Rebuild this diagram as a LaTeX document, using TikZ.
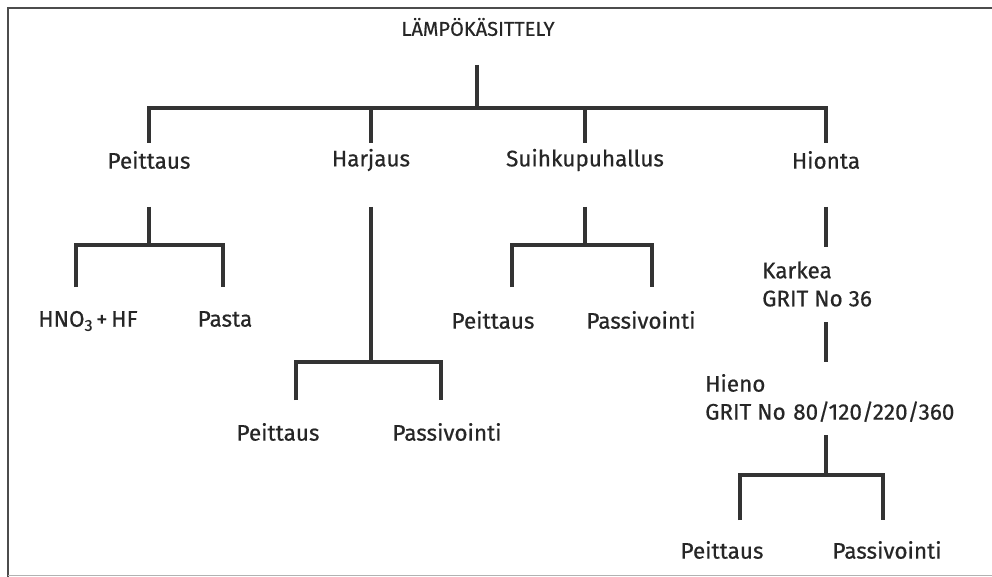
\documentclass[tikz,border=0pt]{standalone}
\usepackage{fontspec}
\setmainfont{Fira Sans}
\newfontfamily\lblfont{Fira Sans}[FakeBold=0.5]
\begin{document}
\begin{tikzpicture}[x=1pt,y=-1pt,
  lbl/.style={inner sep=0pt,font=\lblfont\fontsize{22.5}{28}\selectfont,text=black!85},
  ttl/.style={inner sep=0pt,font=\lblfont\fontsize{20}{22}\selectfont,text=black!85},
  conn/.style={line width=3.2pt,draw=black!80},
  frame/.style={line width=1.8pt,draw=black!70}]
\useasboundingbox (0,0) rectangle (992,577);
\fill[white] (0,0) rectangle (992,577);
% frame
\draw[frame] (992,8) -- (8,8) -- (8,577);
\draw[line width=0.8pt,draw=black!30] (8,575) -- (992,575);

% root
\node[ttl] (root) at (478,27) {LÄMPÖKÄSITTELY};
\coordinate (r0) at (477,65);
\coordinate (j0) at (477,108);
\draw[conn] (r0) -- (j0);

% level 1
\node[lbl] (peit) at (149,160) {Peittaus};
\node[lbl] (harj) at (371,160) {Harjaus};
\node[lbl] (suih) at (585,160) {Suihkupuhallus};
\node[lbl] (hion) at (826,160) {Hionta};
\coordinate (a1) at (149,143);
\coordinate (a2) at (371,143);
\coordinate (a3) at (585,143);
\coordinate (a4) at (826,143);
\draw[conn] (a1) |- (j0) -| (a4);
\draw[conn] (a2) -- (a2 |- j0);
\draw[conn] (a3) -- (a3 |- j0);

% Peittaus subtree
\node[lbl] (hno) at (88,321) {HNO\raisebox{-0.35ex}{\fontsize{16}{18}\selectfont 3}\,+\,HF};
\node[lbl] (pasta) at (225,319) {Pasta};
\coordinate (b0) at (149,207);
\coordinate (j1) at (149,245);
\coordinate (b1) at (76,287);
\coordinate (b2) at (223,287);
\draw[conn] (b0) -- (j1);
\draw[conn] (b1) |- (j1) -| (b2);

% Harjaus subtree
\node[lbl] (hpeit) at (278,432) {Peittaus};
\node[lbl] (hpass) at (447,432) {Passivointi};
\coordinate (c0) at (371,207);
\coordinate (j2) at (371,362);
\coordinate (c1) at (296,400);
\coordinate (c2) at (441,400);
\draw[conn] (c0) -- (j2);
\draw[conn] (c1) |- (j2) -| (c2);

% Suihkupuhallus subtree
\node[lbl] (speit) at (493,320) {Peittaus};
\node[lbl] (spass) at (641,320) {Passivointi};
\coordinate (d0) at (585,207);
\coordinate (j3) at (585,245);
\coordinate (d1) at (512,287);
\coordinate (d2) at (652,287);
\draw[conn] (d0) -- (j3);
\draw[conn] (d1) |- (j3) -| (d2);

% Hionta chain
\node[lbl,anchor=west,align=left] (kark) at (762,284) {Karkea\\GRIT No 36};
\node[lbl,anchor=west,align=left] (hien) at (705,398) {Hieno\\GRIT No\,\,80/120/220/360};
\coordinate (e0) at (826,207);
\coordinate (e1) at (826,247);
\coordinate (e2) at (826,322);
\coordinate (e3) at (826,362);
\coordinate (e4) at (826,435);
\coordinate (j4) at (826,475);
\draw[conn] (e0) -- (e1);
\draw[conn] (e2) -- (e3);
\draw[conn] (e4) -- (j4);
\node[lbl] (ipeit) at (722,550) {Peittaus};
\node[lbl] (ipass) at (887,550) {Passivointi};
\coordinate (f1) at (740,520);
\coordinate (f2) at (883,520);
\draw[conn] (f1) |- (j4) -| (f2);
\end{tikzpicture}
\end{document}
